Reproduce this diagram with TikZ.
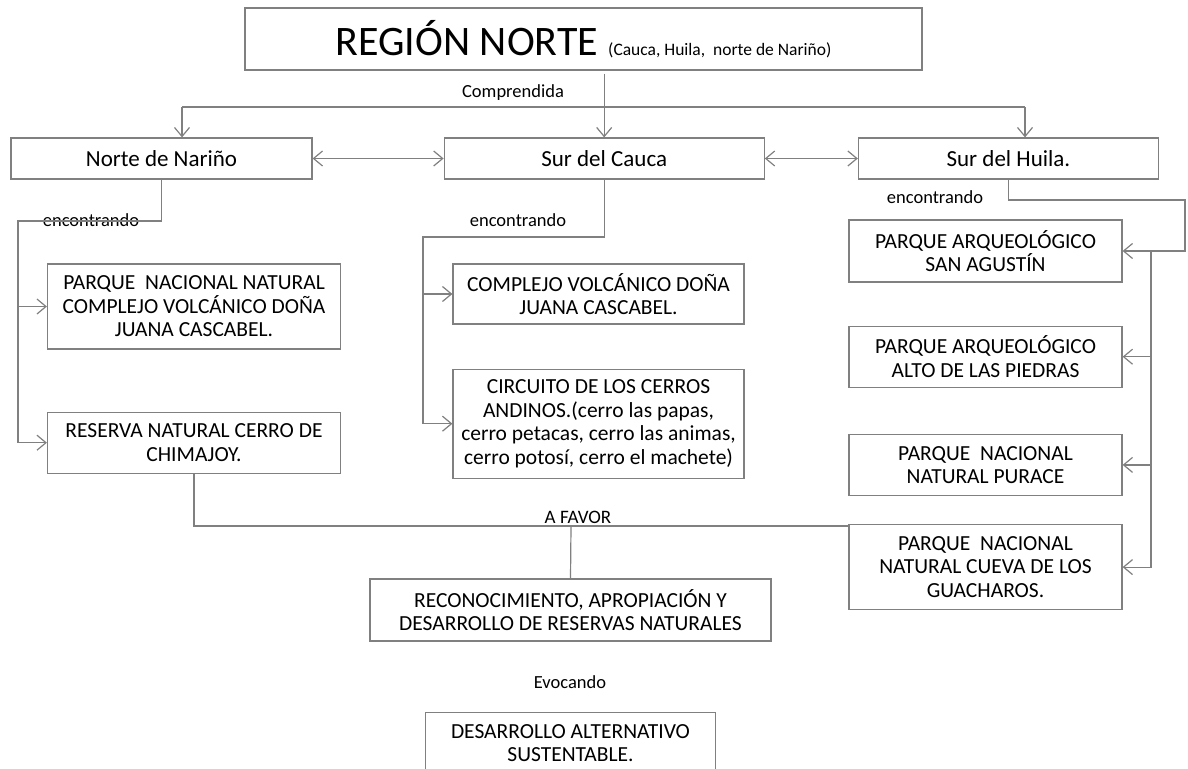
\documentclass[tikz,border=0pt]{standalone}
\usepackage{fontspec}
\setmainfont{Carlito}
\usetikzlibrary{positioning, arrows.meta}
\definecolor{linea}{RGB}{128,128,128}

\begin{document}
\begin{tikzpicture}[x=1pt, y=-1pt,
    caja/.style={draw=linea, line width=1.2pt, align=center, inner sep=0pt,
        font=\fontsize{21.5}{23.5}\selectfont},
    nivel/.style={caja, minimum height=41pt, font=\fontsize{23}{26}\selectfont},
    rama/.style={draw=linea, line width=1.2pt},
    flecha/.style={rama, -{Straight Barb[length=9pt, width=15pt]}},
    ambas/.style={rama, {Straight Barb[length=9pt, width=15pt]}-{Straight Barb[length=9pt, width=15pt]}},
    etiq/.style={font=\fontsize{18.5}{20}\selectfont, inner sep=0pt}]
    \useasboundingbox (0,0) rectangle (1188,768);
    \clip (0,0) rectangle (1188,768);

    \node[caja, minimum width=677pt, minimum height=62pt] (region) at (583.5,39)
        {{\fontsize{42}{46}\selectfont REGIÓN NORTE}\hspace{10pt}{\fontsize{17.5}{20}\selectfont (Cauca, Huila,~ norte de Nariño)}};

    \node[nivel, minimum width=301pt] (nar) at (161.5,158.5) {Norte de Nariño};
    \node[nivel, minimum width=320pt, right=131pt of nar] (cau) {Sur del Cauca};
    \node[nivel, minimum width=300pt, right=93pt of cau] (hui) {Sur del Huila.};

    \node[caja, minimum width=293pt, minimum height=85pt] (p1) at (194,306.5)
        {PARQUE~ NACIONAL NATURAL\\COMPLEJO VOLCÁNICO DOÑA\\JUANA CASCABEL.};
    \node[caja, minimum width=293pt, minimum height=61pt, below=62pt of p1] (p2)
        {RESERVA NATURAL CERRO DE\\CHIMAJOY.};

    \node[caja, minimum width=291pt, minimum height=60pt] (c1) at (598.5,294)
        {COMPLEJO VOLCÁNICO DOÑA\\JUANA CASCABEL.};
    \node[caja, minimum width=291pt, minimum height=109pt, below=44pt of c1] (c2)
        {CIRCUITO DE LOS CERROS\\ANDINOS.(cerro las papas,\\cerro petacas, cerro las animas,\\cerro potosí, cerro el machete)};

    \node[caja, minimum width=273pt, minimum height=62pt] (h1) at (985.5,251)
        {PARQUE ARQUEOLÓGICO\\SAN AGUSTÍN};
    \node[caja, minimum width=273pt, minimum height=61pt, below=43pt of h1] (h2)
        {PARQUE ARQUEOLÓGICO\\ALTO DE LAS PIEDRAS};
    \node[caja, minimum width=273pt, minimum height=61pt, below=46pt of h2] (h3)
        {PARQUE~ NACIONAL\\NATURAL PURACE};
    \node[caja, minimum width=273pt, minimum height=85pt, below=28pt of h3] (h4)
        {PARQUE~ NACIONAL\\NATURAL CUEVA DE LOS\\GUACHAROS.};

    \node[caja, minimum width=401pt, minimum height=62pt] (r1) at (570.5,610)
        {RECONOCIMIENTO, APROPIACIÓN Y\\DESARROLLO DE RESERVAS NATURALES};
    \node[caja, minimum width=290pt, minimum height=62pt, below=70pt of r1] (r2)
        {DESARROLLO ALTERNATIVO\\SUSTENTABLE.};

    \node[etiq] (comp) at (513,93) {Comprendida};
    \node[etiq] (enc1) at (91,220) {encontrando};
    \node[etiq] (enc2) at (518,220) {encontrando};
    \node[etiq] (enc3) at (935,197) {encontrando};
    \node[etiq, font=\fontsize{19}{21}\selectfont] (favor) at (578,517) {A FAVOR};
    \node[etiq] (evoc) at (570,682) {Evocando};

    \coordinate (izq) at (182,107);
    \coordinate (der) at (1025,107);
    \draw[rama] (izq) -- (der);
    \draw[flecha] (izq) -- (izq |- nar.north);
    \draw[flecha] (der) -- (der |- hui.north);
    \draw[flecha] ([yshift=-3pt]region.south -| cau.north) -- (cau.north);
    \draw[ambas] (nar) -- (cau);
    \draw[ambas] (cau) -- (hui);

    \coordinate (bn) at (18,221);
    \draw[flecha] (nar.south) |- (bn) |- (p2.west);
    \draw[flecha] (bn |- p1.west) -- (p1.west);

    \coordinate (bc) at (423,237);
    \draw[flecha] (cau.south) |- (bc) |- (c2.west);
    \draw[flecha] (bc |- c1.west) -- (c1.west);

    \coordinate (bh) at (1185,200);
    \coordinate (vh) at (1151,0);
    \draw[flecha] (hui.south) |- (bh) |- (h1.east);
    \draw[flecha] (vh |- h1.east) |- (h4.east);
    \draw[flecha] (vh |- h2.east) -- (h2.east);
    \draw[flecha] (vh |- h3.east) -- (h3.east);

    \coordinate (fav) at (571,526);
    \draw[rama] (p2.south) |- (fav) -- (fav -| h4.west);
    \draw[rama] (fav) -- (r1.north);
\end{tikzpicture}
\end{document}
